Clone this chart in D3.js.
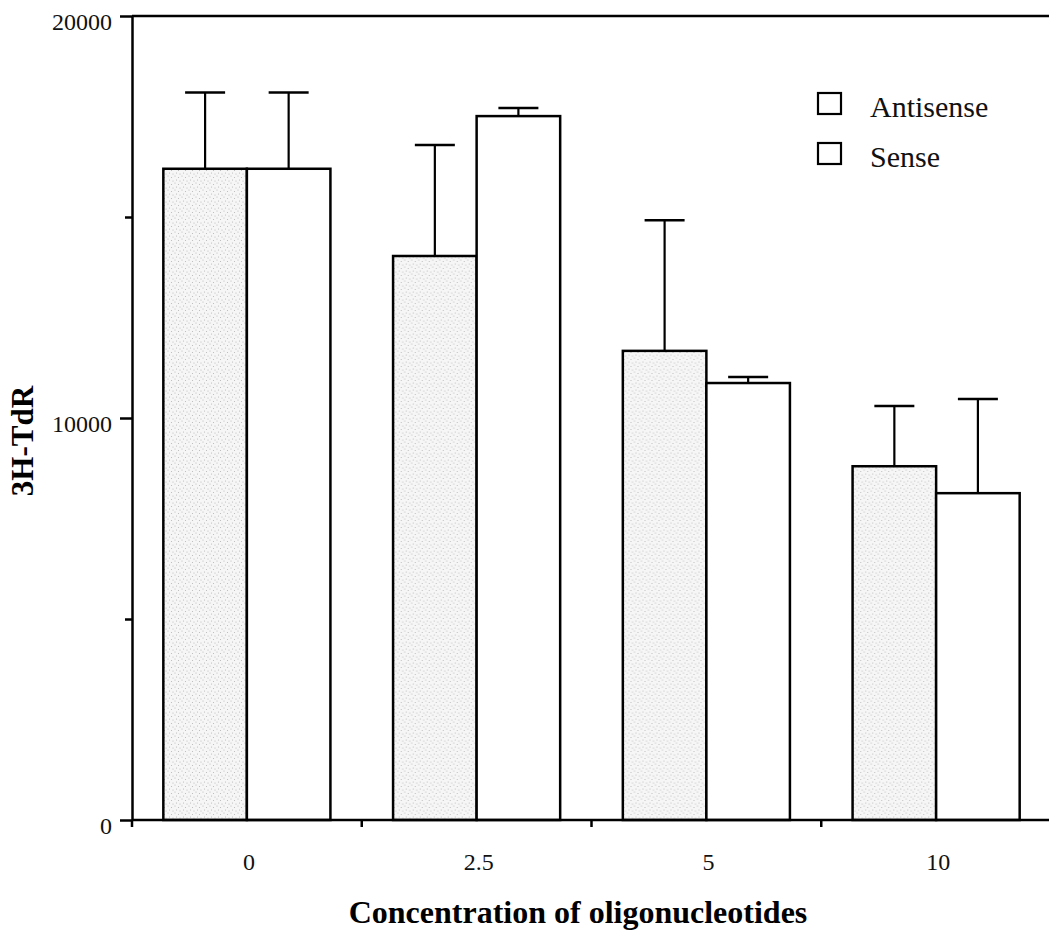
<!DOCTYPE html>
<html>
<head>
<meta charset="utf-8">
<script src="https://cdn.jsdelivr.net/npm/d3@7"></script>
<style>
  body { margin: 0; background: #fff; }
  svg { display: block; font-family: "Liberation Serif", "Times New Roman", serif; }
</style>
</head>
<body>
<div id="chart"></div>
<script>
// data
var concentrations = ["0", "2.5", "5", "10"];
var seriesNames = ["Antisense", "Sense"];
var antisenseMean = [16200, 14030, 11670, 8800];
var antisenseSD   = [1900, 2760, 3250, 1500];
var senseMean     = [16200, 17510, 10870, 8130];
var senseSD       = [1900, 200, 150, 2340];
var yTicks = [0, 5000, 10000, 15000, 20000];
var yLabelled = [0, 10000, 20000];

var W = 1049, H = 932;
var plotLeft = 132, plotRight = 1051, plotTop = 16, plotBottom = 820;

var svg = d3.select("#chart").append("svg")
    .attr("width", W).attr("height", H);

// stipple fill for antisense bars
var defs = svg.append("defs");
var pat = defs.append("pattern")
    .attr("id", "stipple")
    .attr("patternUnits", "userSpaceOnUse")
    .attr("width", 7).attr("height", 7);
pat.append("rect").attr("width", 7).attr("height", 7).attr("fill", "#f6f6f6");
[[1, 1], [4.5, 2.5], [2.5, 5], [6, 6]].forEach(function(p) {
  pat.append("circle").attr("cx", p[0]).attr("cy", p[1]).attr("r", 0.55).attr("fill", "#b5b5b5");
});

var x0 = d3.scaleBand().domain(concentrations).range([plotLeft, plotRight]).padding(0);
var x1 = d3.scaleBand().domain(seriesNames).range([0, x0.bandwidth()])
    .paddingInner(0).paddingOuter(0.375);
var y = d3.scaleLinear().domain([0, 20000]).range([plotBottom, plotTop]);

var rows = concentrations.map(function(c, i) {
  return [
    { c: c, s: "Antisense", v: antisenseMean[i], sd: antisenseSD[i] },
    { c: c, s: "Sense", v: senseMean[i], sd: senseSD[i] }
  ];
});

// top frame line
svg.append("line")
    .attr("x1", plotLeft).attr("x2", W).attr("y1", y(20000)).attr("y2", y(20000))
    .attr("stroke", "#000").attr("stroke-width", 2.5);

// y axis
var yAxis = svg.append("g")
    .attr("transform", "translate(" + plotLeft + ",0)")
    .call(d3.axisLeft(y).tickValues(yTicks).tickSizeOuter(0)
      .tickFormat(function(d) { return yLabelled.indexOf(d) >= 0 ? d : ""; }));
yAxis.select(".domain").attr("stroke-width", 2.5);
yAxis.selectAll(".tick line")
    .attr("x2", function(d) { return yLabelled.indexOf(d) >= 0 ? -12 : -7; })
    .attr("stroke-width", 2.5);
yAxis.selectAll(".tick text")
    .attr("x", -20).attr("dy", "0.55em")
    .attr("font-size", 24).attr("font-family", "Liberation Serif").attr("fill", "#111");

// bars
var groups = svg.selectAll(".grp").data(rows).enter().append("g")
    .attr("class", "grp")
    .attr("transform", function(d) { return "translate(" + x0(d[0].c) + ",0)"; });

groups.selectAll("rect").data(function(d) { return d; }).enter().append("rect")
    .attr("x", function(d) { return x1(d.s); })
    .attr("width", x1.bandwidth())
    .attr("y", function(d) { return y(d.v); })
    .attr("height", function(d) { return y(0) - y(d.v); })
    .attr("fill", function(d) { return d.s === "Antisense" ? "url(#stipple)" : "#fff"; })
    .attr("stroke", "#000").attr("stroke-width", 2.5);

// error bars (upper only)
groups.selectAll(".err").data(function(d) { return d; }).enter().append("line")
    .attr("class", "err")
    .attr("x1", function(d) { return x1(d.s) + x1.bandwidth() / 2; })
    .attr("x2", function(d) { return x1(d.s) + x1.bandwidth() / 2; })
    .attr("y1", function(d) { return y(d.v); })
    .attr("y2", function(d) { return y(d.v + d.sd); })
    .attr("stroke", "#000").attr("stroke-width", 2.2);
groups.selectAll(".cap").data(function(d) { return d; }).enter().append("line")
    .attr("class", "cap")
    .attr("x1", function(d) { return x1(d.s) + x1.bandwidth() / 2 - 20; })
    .attr("x2", function(d) { return x1(d.s) + x1.bandwidth() / 2 + 20; })
    .attr("y1", function(d) { return y(d.v + d.sd); })
    .attr("y2", function(d) { return y(d.v + d.sd); })
    .attr("stroke", "#000").attr("stroke-width", 2.5);

// x axis: ticks on band boundaries, labels in band centres
var xAxis = svg.append("g").attr("transform", "translate(0," + plotBottom + ")");
xAxis.append("line").attr("x1", plotLeft).attr("x2", W).attr("y1", 0).attr("y2", 0)
    .attr("stroke", "#000").attr("stroke-width", 2.5);
xAxis.selectAll(".xt").data(concentrations).enter().append("line")
    .attr("x1", function(d) { return x0(d); }).attr("x2", function(d) { return x0(d); })
    .attr("y1", 0).attr("y2", 7).attr("stroke", "#000").attr("stroke-width", 2.5);
xAxis.selectAll(".xl").data(concentrations).enter().append("text")
    .attr("x", function(d) { return x0(d) + x0.bandwidth() / 2 + 2; })
    .attr("y", 50)
    .attr("text-anchor", "middle")
    .attr("font-size", 24).attr("fill", "#111")
    .text(function(d) { return d; });

// axis titles
svg.append("text")
    .attr("x", 578).attr("y", 923)
    .attr("text-anchor", "middle")
    .attr("font-size", 32).attr("font-weight", "bold")
    .text("Concentration of oligonucleotides");
svg.append("text")
    .attr("transform", "translate(33,441) rotate(-90)")
    .attr("text-anchor", "middle")
    .attr("font-size", 31).attr("font-weight", "bold")
    .text("3H-TdR");

// legend
var legend = svg.append("g").attr("transform", "translate(818,93)");
seriesNames.forEach(function(s, i) {
  var g = legend.append("g").attr("transform", "translate(0," + i * 50 + ")");
  g.append("rect").attr("width", 23).attr("height", 21)
      .attr("fill", "#fff").attr("stroke", "#000").attr("stroke-width", 2.2);
  g.append("text").attr("x", 52).attr("y", 24)
      .attr("font-size", 30).attr("fill", "#111").text(s);
});
</script>
</body>
</html>
